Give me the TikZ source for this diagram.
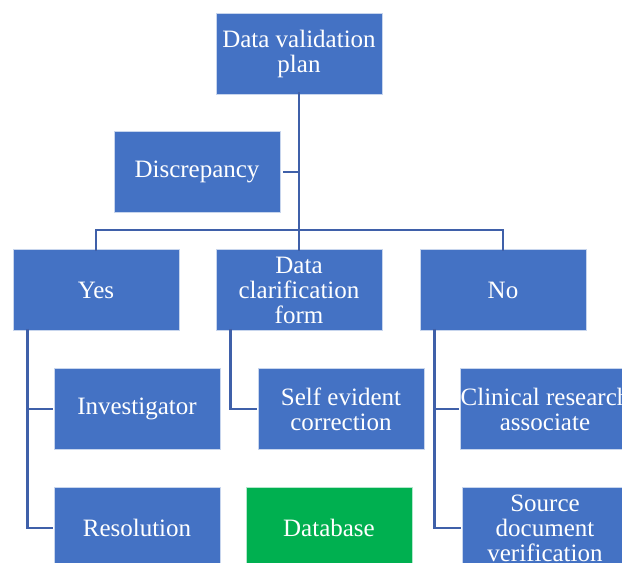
\documentclass[tikz,border=0pt]{standalone}
\usepackage{fontspec}
\setmainfont{Liberation Serif}
\definecolor{boxblue}{HTML}{4472C4}
\definecolor{boxgreen}{HTML}{00B050}
\definecolor{lineblue}{HTML}{3F60A9}
\begin{document}
\begin{tikzpicture}[x=1pt,y=-1pt]
    \tikzstyle{bx} = [rectangle,fill=boxblue,draw=white!70!boxblue,line width=0.8pt,
      minimum width=166pt,minimum height=81pt,text=white,align=center,
      font=\fontsize{25}{25}\selectfont,inner sep=0pt] %box
    \tikzstyle{cn} = [-,draw=lineblue,line width=2.5pt] %connector
    \clip (0,0) rectangle (622,563);
    \node[bx](plan)at(299,54){Data validation\\plan};
    \node[bx](disc)at(197,172){Discrepancy};
    \node[bx](yes)at(96,290){Yes};
    \node[bx](dcf)at(299,290){Data\\clarification\\form};
    \node[bx](no)at(503,290){No};
    \node[bx](inv)at(137,409){Investigator};
    \node[bx](sec)at(341,409){Self evident\\correction};
    \node[bx](cra)at(545,409){Clinical research\\associate};
    \node[bx](res)at(137,528){Resolution};
    \node[bx,fill=boxgreen,draw=white!70!boxgreen](db)at(329,528){Database};
    \node[bx](sdv)at(545,528){Source\\document\\verification};
    \coordinate(hub)at(299,230);
    % top trunk
    \draw[cn]([yshift=3pt]plan.south)--(hub);
    \draw[cn]([xshift=3pt]disc.east)--(plan.south|-disc.east);
    \draw[cn]([yshift=-2pt]yes.north)|-(hub)-|([yshift=-2pt]no.north);
    \draw[cn](hub)--([yshift=-2pt]dcf.north);
    % left branch
    \draw[cn]([xshift=15pt,yshift=2pt]yes.south west)|-([xshift=-1pt]res.west);
    \draw[cn]([xshift=15pt]yes.south west|-inv.west)--([xshift=-1pt]inv.west);
    % middle branch
    \draw[cn]([xshift=15pt,yshift=2pt]dcf.south west)|-([xshift=-1pt]sec.west);
    % right branch
    \draw[cn]([xshift=15pt,yshift=2pt]no.south west)|-([xshift=-1pt]sdv.west);
    \draw[cn]([xshift=15pt]no.south west|-cra.west)--([xshift=-1pt]cra.west);
  \end{tikzpicture}
\end{document}
